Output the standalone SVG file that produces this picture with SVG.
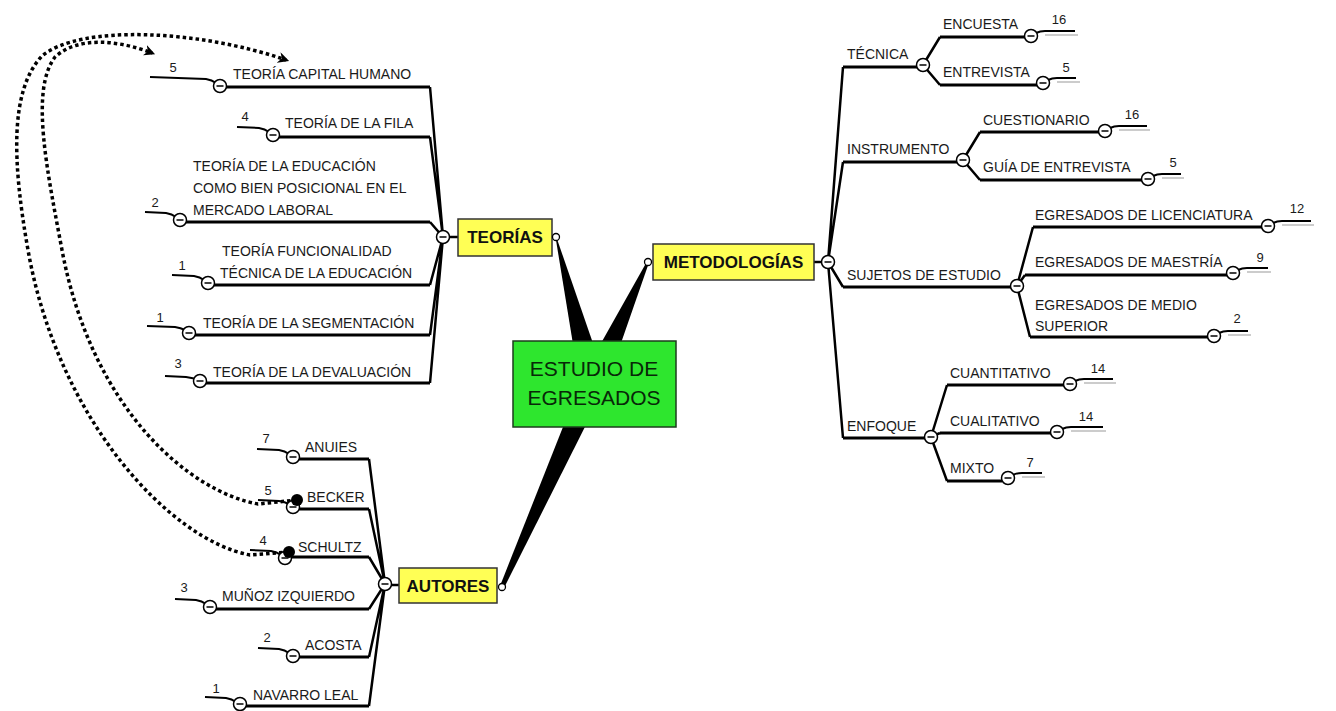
<svg xmlns="http://www.w3.org/2000/svg" xmlns:xlink="http://www.w3.org/1999/xlink" width="1336" height="711" viewBox="0 0 1336 711">
<style>
.t{font-family:"Liberation Sans",Arial,sans-serif;font-size:14px;fill:#1a1a1a}
.n{font-family:"Liberation Sans",Arial,sans-serif;font-size:13px;fill:#1a1a1a;text-anchor:middle}
.b{font-family:"Liberation Sans",Arial,sans-serif;font-size:17px;font-weight:bold;fill:#111;text-anchor:middle}
.ul{stroke:#000;stroke-width:3;fill:none}
.c{stroke:#000;stroke-width:2.5;fill:none}
.tl{stroke:#000;stroke-width:2;fill:none}
.tg{stroke:#999;stroke-width:1;fill:none}
.dot{stroke:#000;stroke-width:3.5;fill:none;stroke-dasharray:3.5 3}
.yb{fill:#ffff55;stroke:#333;stroke-width:1.5}
.sc{fill:#fff;stroke:#000;stroke-width:1.3}
</style>
<defs>
<g id="minus"><circle r="6.5" fill="#fff" stroke="#000" stroke-width="1.5"/><line x1="-3.5" y1="0" x2="3.5" y2="0" stroke="#000" stroke-width="1.5"/></g>
<marker id="arr" viewBox="0 0 10 10" refX="7" refY="5" markerWidth="11" markerHeight="11" markerUnits="userSpaceOnUse" orient="auto"><path d="M0,0 L10,5 L0,10 L3,5 z" fill="#000"/></marker>
</defs>
<rect width="1336" height="711" fill="#fff"/>
<g id="connectors">
<polygon points="606,381 556.5,237.5 555.5,237 580,387" fill="#000"/>
<polygon points="605,389 649,262.5 647,261.5 581,378.7" fill="#000"/>
<polygon points="604,389 504,588 500,586 582,379" fill="#000"/>
<line class="c" x1="449" y1="237" x2="458" y2="237"/>
<line class="c" x1="814" y1="262" x2="822" y2="262"/>
<line class="c" x1="391" y1="585" x2="399" y2="585"/>
<path class="c" d="M430,87 L443,237 M430,137 L443,237 M430,222 L443,237 M430,285 L443,237 M430,335 L443,237 M430,383 L443,237"/>
<path class="c" d="M369,459 L385,584 M369,509 L385,584 M369,557 L385,584 M369,609 L385,584 M369,657 L385,584 M369,706 L385,584"/>
<path class="c" d="M828,262 L843,67 M828,262 L843,162 M828,262 L843,287 M828,262 L843,438"/>
<path class="c" d="M923,65 L940,37 M923,65 L940,85"/>
<path class="c" d="M963,160 L980,132 M963,160 L980,180"/>
<path class="c" d="M1017,286 L1033,227 M1017,286 L1025,275 M1017,286 L1030,337"/>
<path class="c" d="M931,437 L947,385 M931,437 L940,433 M931,437 L947,481"/>
<path class="dot" d="M297,500 L258,504 C190,492 92,410 62,250 C47,170 30,90 55,57 C78,36 118,40 152,53" marker-end="url(#arr)"/>
<path class="dot" d="M289,552 L250,555 C170,540 58,420 28,250 C12,160 10,90 42,56 C80,24 200,30 286,60" marker-end="url(#arr)"/>
</g>
<g id="n-center">
<rect x="513" y="341" width="163" height="86" fill="#2ee62e" stroke="#1d3d1d" stroke-width="1.5"/>
<text x="594" y="376" font-family="Liberation Sans, Arial, sans-serif" font-size="21" fill="#082808" text-anchor="middle">ESTUDIO DE</text>
<text x="594" y="405" font-family="Liberation Sans, Arial, sans-serif" font-size="21" fill="#082808" text-anchor="middle">EGRESADOS</text>
</g>
<g id="n-teorias">
<rect class="yb" x="458" y="219" width="94" height="37"/>
<text class="b" x="505" y="243">TEORÍAS</text>
<circle class="sc" cx="556" cy="237" r="3.5"/>
<use href="#minus" x="443" y="237"/>
</g>
<g id="n-metodologias">
<rect class="yb" x="653" y="244" width="161" height="36"/>
<text class="b" x="733.5" y="268">METODOLOGÍAS</text>
<circle class="sc" cx="648" cy="262" r="3.5"/>
<use href="#minus" x="828" y="262"/>
</g>
<g id="n-autores">
<rect class="yb" x="399" y="568" width="98" height="35"/>
<text class="b" x="448" y="592">AUTORES</text>
<circle class="sc" cx="502" cy="587" r="3.5"/>
<use href="#minus" x="385" y="584"/>
</g>
<g id="n-t1"><line class="ul" x1="220" y1="87" x2="430" y2="87"/><path class="tl" d="M150,77 L206,79 Q212,80 216,83"/><use href="#minus" x="220" y="86"/><text class="t" x="233" y="79">TEORÍA CAPITAL HUMANO</text><text class="n" x="173" y="72">5</text></g>
<g id="n-t2"><line class="ul" x1="273" y1="137" x2="430" y2="137"/><path class="tl" d="M237,127 L259,128 Q265,129 269,132"/><use href="#minus" x="273" y="135"/><text class="t" x="285" y="128">TEORÍA DE LA FILA</text><text class="n" x="245" y="121">4</text></g>
<g id="n-t3"><line class="ul" x1="180" y1="222" x2="430" y2="222"/><path class="tl" d="M145,212 L166,213 Q172,214 176,217"/><use href="#minus" x="180" y="220"/><text class="t" x="193" y="171">TEORÍA DE LA EDUCACIÓN</text><text class="t" x="193" y="193">COMO BIEN POSICIONAL EN EL</text><text class="t" x="193" y="215">MERCADO LABORAL</text><text class="n" x="155" y="207">2</text></g>
<g id="n-t4"><line class="ul" x1="208" y1="285" x2="430" y2="285"/><path class="tl" d="M172,275 L194,276 Q200,277 204,280"/><use href="#minus" x="208" y="283"/><text class="t" x="222" y="256">TEORÍA FUNCIONALIDAD</text><text class="t" x="220" y="278">TÉCNICA DE LA EDUCACIÓN</text><text class="n" x="182" y="270">1</text></g>
<g id="n-t5"><line class="ul" x1="189" y1="335" x2="430" y2="335"/><path class="tl" d="M147,326 L175,327 Q181,328 185,330"/><use href="#minus" x="189" y="333"/><text class="t" x="203" y="328">TEORÍA DE LA SEGMENTACIÓN</text><text class="n" x="160" y="322">1</text></g>
<g id="n-t6"><line class="ul" x1="200" y1="383" x2="430" y2="383"/><path class="tl" d="M165,376 L186,377 Q192,378 196,379"/><use href="#minus" x="200" y="381"/><text class="t" x="213" y="377">TEORÍA DE LA DEVALUACIÓN</text><text class="n" x="178" y="368">3</text></g>
<g id="n-a1"><line class="ul" x1="293" y1="459" x2="369" y2="459"/><path class="tl" d="M257,449 L279,450 Q285,451 289,454"/><use href="#minus" x="293" y="457"/><text class="t" x="305" y="452">ANUIES</text><text class="n" x="266" y="443">7</text></g>
<g id="n-a2"><line class="ul" x1="293" y1="509" x2="369" y2="509"/><path class="tl" d="M258,500 L279,501 Q285,502 289,504"/><use href="#minus" x="293" y="507"/><circle cx="297" cy="500" r="6" fill="#000"/><text class="t" x="307" y="502">BECKER</text><text class="n" x="268" y="495">5</text></g>
<g id="n-a3"><line class="ul" x1="285" y1="557" x2="369" y2="557"/><path class="tl" d="M250,550 L271,551 Q277,552 281,555"/><use href="#minus" x="285" y="558"/><circle cx="289" cy="552" r="6" fill="#000"/><text class="t" x="298" y="552">SCHULTZ</text><text class="n" x="263" y="545">4</text></g>
<g id="n-a4"><line class="ul" x1="210" y1="609" x2="369" y2="609"/><path class="tl" d="M175,599 L196,600 Q202,601 206,604"/><use href="#minus" x="210" y="607"/><text class="t" x="222" y="601">MUÑOZ IZQUIERDO</text><text class="n" x="184" y="592">3</text></g>
<g id="n-a5"><line class="ul" x1="293" y1="657" x2="369" y2="657"/><path class="tl" d="M258,648 L279,649 Q285,650 289,653"/><use href="#minus" x="293" y="656"/><text class="t" x="305" y="650">ACOSTA</text><text class="n" x="267" y="642">2</text></g>
<g id="n-a6"><line class="ul" x1="240" y1="706" x2="369" y2="706"/><path class="tl" d="M205,697 L226,698 Q232,699 236,702"/><use href="#minus" x="240" y="704"/><text class="t" x="253" y="700">NAVARRO LEAL</text><text class="n" x="216" y="693">1</text></g>
<g id="n-tecnica"><line class="ul" x1="843" y1="67" x2="917" y2="67"/><text class="t" x="847" y="59">TÉCNICA</text><use href="#minus" x="923" y="65"/></g>
<g id="n-encuesta"><line class="ul" x1="940" y1="37" x2="1025" y2="37"/><text class="t" x="943" y="29">ENCUESTA</text><path class="tl" d="M1036,33 Q1040,31 1045,31 L1075,31"/><path class="tg" d="M1045,35 L1078,35"/><use href="#minus" x="1031" y="36"/><text class="n" x="1059" y="24">16</text></g>
<g id="n-entrevista"><line class="ul" x1="940" y1="85" x2="1037" y2="85"/><text class="t" x="943" y="77">ENTREVISTA</text><path class="tl" d="M1048,80 Q1052,78 1057,78 L1076,78"/><path class="tg" d="M1057,82 L1080,82"/><use href="#minus" x="1043" y="83"/><text class="n" x="1066" y="72">5</text></g>
<g id="n-instrumento"><line class="ul" x1="843" y1="162" x2="957" y2="162"/><text class="t" x="847" y="154">INSTRUMENTO</text><use href="#minus" x="963" y="160"/></g>
<g id="n-cuestionario"><line class="ul" x1="980" y1="132" x2="1099" y2="132"/><text class="t" x="983" y="125">CUESTIONARIO</text><path class="tl" d="M1110,128 Q1114,126 1119,126 L1147,126"/><path class="tg" d="M1119,130 L1150,130"/><use href="#minus" x="1105" y="131"/><text class="n" x="1132" y="119">16</text></g>
<g id="n-guia"><line class="ul" x1="980" y1="180" x2="1142" y2="180"/><text class="t" x="983" y="172">GUÍA DE ENTREVISTA</text><path class="tl" d="M1153,176 Q1157,174 1162,174 L1181,174"/><path class="tg" d="M1162,178 L1184,178"/><use href="#minus" x="1148" y="179"/><text class="n" x="1173" y="167">5</text></g>
<g id="n-sujetos"><line class="ul" x1="843" y1="287" x2="1011" y2="287"/><text class="t" x="847" y="280">SUJETOS DE ESTUDIO</text><use href="#minus" x="1017" y="286"/></g>
<g id="n-lic"><line class="ul" x1="1033" y1="227" x2="1262" y2="227"/><text class="t" x="1035" y="220">EGRESADOS DE LICENCIATURA</text><path class="tl" d="M1273,223 Q1277,221 1282,221 L1311,221"/><path class="tg" d="M1282,225 L1314,225"/><use href="#minus" x="1268" y="226"/><text class="n" x="1297" y="213">12</text></g>
<g id="n-maestria"><line class="ul" x1="1025" y1="275" x2="1227" y2="275"/><text class="t" x="1035" y="267">EGRESADOS DE MAESTRÍA</text><path class="tl" d="M1238,270 Q1242,268 1247,268 L1268,268"/><path class="tg" d="M1247,272 L1271,272"/><use href="#minus" x="1233" y="273"/><text class="n" x="1260" y="262">9</text></g>
<g id="n-medio"><line class="ul" x1="1030" y1="337" x2="1208" y2="337"/><text class="t" x="1035" y="310">EGRESADOS DE MEDIO</text><text class="t" x="1035" y="331">SUPERIOR</text><path class="tl" d="M1219,333 Q1223,331 1228,331 L1248,331"/><path class="tg" d="M1228,335 L1251,335"/><use href="#minus" x="1214" y="336"/><text class="n" x="1237" y="323">2</text></g>
<g id="n-enfoque"><line class="ul" x1="843" y1="438" x2="925" y2="438"/><text class="t" x="847" y="431">ENFOQUE</text><use href="#minus" x="931" y="437"/></g>
<g id="n-cuant"><line class="ul" x1="947" y1="385" x2="1064" y2="385"/><text class="t" x="950" y="378">CUANTITATIVO</text><path class="tl" d="M1075,381 Q1079,379 1084,379 L1113,379"/><path class="tg" d="M1084,383 L1116,383"/><use href="#minus" x="1070" y="384"/><text class="n" x="1098" y="373">14</text></g>
<g id="n-cual"><line class="ul" x1="940" y1="433" x2="1051" y2="433"/><text class="t" x="950" y="426">CUALITATIVO</text><path class="tl" d="M1062,429 Q1066,427 1071,427 L1103,427"/><path class="tg" d="M1071,431 L1106,431"/><use href="#minus" x="1057" y="432"/><text class="n" x="1086" y="421">14</text></g>
<g id="n-mixto"><line class="ul" x1="947" y1="481" x2="1002" y2="481"/><text class="t" x="950" y="473">MIXTO</text><path class="tl" d="M1013,475 Q1017,473 1022,473 L1042,473"/><path class="tg" d="M1022,477 L1045,477"/><use href="#minus" x="1008" y="478"/><text class="n" x="1030" y="467">7</text></g>
</svg>
